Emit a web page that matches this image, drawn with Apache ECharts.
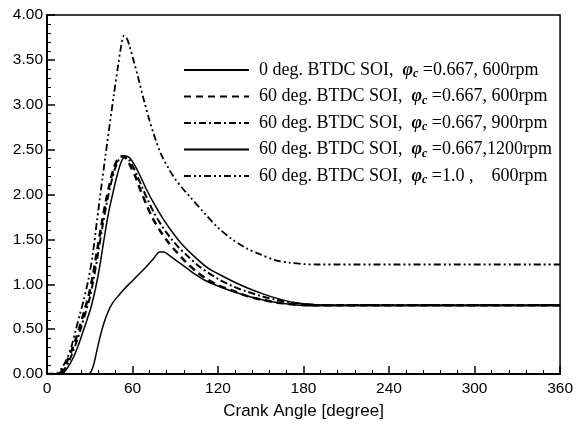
<!DOCTYPE html>
<html>
<head>
<meta charset="utf-8">
<script src="https://cdn.jsdelivr.net/npm/echarts@6/dist/echarts.min.js"></script>
<style>html,body{margin:0;padding:0;background:#fff}#c{width:576px;height:425px}</style>
</head>
<body>
<div id="c"></div>
<script>
var seriesNames = [
  "0 deg. BTDC SOI,  φc =0.667, 600rpm",
  "60 deg. BTDC SOI,  φc =0.667, 600rpm",
  "60 deg. BTDC SOI,  φc =0.667, 900rpm",
  "60 deg. BTDC SOI,  φc =0.667,1200rpm",
  "60 deg. BTDC SOI,  φc =1.0 ,    600rpm"
];
var xTicks = [0, 60, 120, 180, 240, 300, 360];
var yTicks = [0, 0.5, 1, 1.5, 2, 2.5, 3, 3.5, 4];

var soi0_600 = [[0,0],[29,0],[31,0.03],[33,0.12],[35,0.26],[37,0.4],[40,0.57],[43,0.7],[46,0.79],[50,0.87],[55,0.96],[60,1.04],[65,1.12],[70,1.2],[75,1.29],[79,1.36],[82,1.36],[86,1.32],[92,1.25],[98,1.18],[104,1.11],[110,1.05],[120,0.98],[132,0.91],[145,0.85],[160,0.8],[175,0.77],[190,0.76],[360,0.76]];
var soi60_600 = [[0,0],[8,0],[11,0.05],[14,0.14],[17,0.25],[20,0.38],[23,0.53],[26,0.69],[29,0.86],[32,1.08],[35,1.36],[38,1.64],[41,1.9],[44,2.12],[47,2.3],[50,2.4],[53,2.43],[56,2.39],[59,2.3],[62,2.2],[66,2.03],[70,1.88],[74,1.74],[80,1.58],[86,1.45],[92,1.34],[98,1.24],[105,1.14],[112,1.06],[120,0.99],[130,0.93],[140,0.87],[150,0.83],[160,0.8],[170,0.78],[180,0.77],[190,0.765],[360,0.765]];
var soi60_900 = [[0,0],[9,0],[12,0.05],[15,0.13],[18,0.24],[21,0.37],[24,0.52],[27,0.68],[30,0.85],[33,1.08],[36,1.36],[39,1.65],[42,1.91],[45,2.13],[48,2.3],[51,2.4],[54,2.43],[57,2.4],[60,2.32],[63,2.22],[67,2.07],[71,1.93],[75,1.8],[81,1.64],[87,1.51],[93,1.4],[99,1.31],[106,1.21],[113,1.13],[120,1.06],[130,0.98],[140,0.92],[150,0.87],[160,0.83],[170,0.8],[180,0.78],[190,0.77],[360,0.77]];
var soi60_1200 = [[0,0],[10,0],[13,0.04],[16,0.11],[19,0.2],[22,0.32],[25,0.46],[28,0.6],[31,0.75],[34,0.95],[37,1.2],[40,1.5],[43,1.78],[46,2.0],[49,2.2],[52,2.36],[55,2.43],[58,2.41],[61,2.34],[65,2.22],[70,2.05],[75,1.9],[81,1.74],[88,1.58],[95,1.44],[104,1.3],[113,1.18],[122,1.1],[132,1.02],[142,0.95],[152,0.89],[162,0.84],[172,0.8],[182,0.78],[195,0.77],[360,0.77]];
var soi60_phi1 = [[0,0],[5,0],[8,0.02],[11,0.08],[14,0.17],[17,0.3],[20,0.48],[23,0.66],[26,0.84],[29,1.05],[32,1.32],[35,1.7],[38,2.07],[41,2.43],[44,2.78],[47,3.12],[50,3.45],[52,3.65],[54,3.77],[56,3.74],[58,3.65],[61,3.48],[64,3.3],[68,3.05],[72,2.82],[76,2.62],[80,2.45],[85,2.3],[90,2.17],[95,2.07],[100,1.98],[110,1.8],[120,1.63],[130,1.5],[140,1.4],[150,1.33],[160,1.27],[170,1.24],[180,1.225],[190,1.22],[360,1.22]];

var dataSets = [soi0_600, soi60_600, soi60_900, soi60_1200, soi60_phi1];
var styles = [
  {width:1.5, type:'solid'},
  {width:2.5, type:[7,5]},
  {width:2, type:[7,3,2,3]},
  {width:1.5, type:'solid'},
  {width:1.8, type:[7,3,2,3,2,3]}
];

var chart = echarts.init(document.getElementById('c'), null, {renderer:'canvas'});
var series = dataSets.map(function(d, i){
  return {
    name: seriesNames[i], type:'line', data:d, showSymbol:false, symbol:'none',
    smooth:0.3,
    lineStyle:{color:'#000', width:styles[i].width, type:styles[i].type},
    itemStyle:{color:'#000'}
  };
});
chart.setOption({
  animation:false,
  backgroundColor:'#fff',
  grid:{left:47, right:12, top:15, bottom:50, show:true, borderColor:'#000', borderWidth:1.5, backgroundColor:'transparent'},
  legend:{
    orient:'vertical', left:183, top:61, padding:0, itemWidth:65, itemHeight:10, itemGap:7.5,
    data:seriesNames,
    itemStyle:{opacity:0},
    formatter:function(n){ return n.replace('φc', '{phi|φ}{sub|c}'); },
    textStyle:{fontFamily:'Liberation Serif', fontSize:18, color:'#000', padding:[0,0,0,5],
      rich:{
        phi:{fontFamily:'Liberation Serif', fontSize:18, fontStyle:'italic', fontWeight:'bold', color:'#000'},
        sub:{fontFamily:'Liberation Serif', fontSize:12, fontStyle:'italic', fontWeight:'bold', color:'#000', padding:[8,0,0,0]}
      }}
  },
  xAxis:{
    type:'value', min:0, max:360, interval:60,
    name:'Crank Angle [degree]', nameLocation:'middle', nameGap:29,
    nameTextStyle:{fontFamily:'Liberation Sans', fontSize:17, color:'#000'},
    axisLine:{lineStyle:{color:'#000', width:2}},
    axisTick:{inside:true, length:8, lineStyle:{color:'#000', width:1.5}},
    minorTick:{show:true, splitNumber:5, length:4, lineStyle:{color:'#000', width:1}},
    splitLine:{show:false},
    axisLabel:{fontFamily:'Liberation Sans', fontSize:15.5, color:'#000', margin:7,
      formatter:function(v){ return xTicks.indexOf(v) >= 0 ? String(v) : ''; }}
  },
  yAxis:{
    type:'value', min:0, max:4, interval:0.5,
    axisLine:{show:true, lineStyle:{color:'#000', width:2}},
    axisTick:{show:true, inside:true, length:8, lineStyle:{color:'#000', width:1.5}},
    minorTick:{show:true, splitNumber:5, length:4, lineStyle:{color:'#000', width:1}},
    splitLine:{show:false},
    axisLabel:{fontFamily:'Liberation Sans', fontSize:15.5, color:'#000', margin:4,
      formatter:function(v){ return yTicks.indexOf(v) >= 0 ? v.toFixed(2) : ''; }}
  },
  series:series
});
</script>
</body>
</html>
